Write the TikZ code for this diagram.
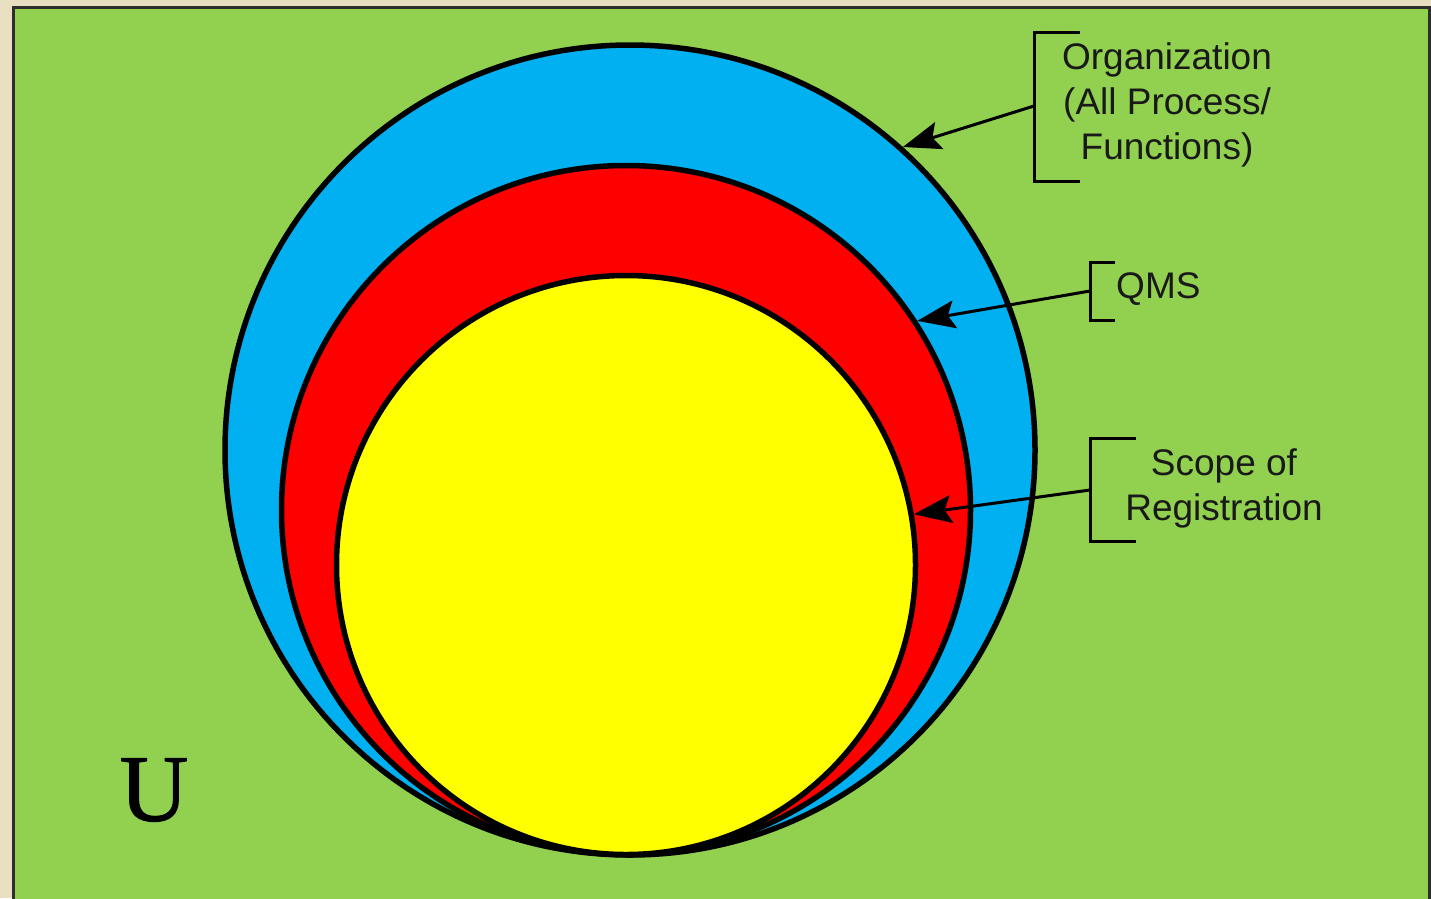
\documentclass[tikz,border=0pt]{standalone}
\usepackage{fontspec}
\setmainfont{Liberation Sans}
\newfontfamily\ufont[FakeBold=1.2]{Liberation Serif}
\usetikzlibrary{arrows.meta}
\definecolor{bgbeige}{HTML}{E8DFC0}
\definecolor{ugreen}{HTML}{92D050}
\definecolor{orgblue}{HTML}{00B0F0}
\definecolor{qmsred}{HTML}{FF0000}
\definecolor{scopeyellow}{HTML}{FFFF00}
\definecolor{frame}{HTML}{2E2E2E}
\tikzset{
  ring/.style={circle, draw=black, line width=5.5pt, inner sep=0pt},
  bracketline/.style={draw=black, line width=3pt},
  pointer/.style={draw=black, line width=3pt, -{Stealth[length=38pt,width=28pt,inset=7pt]}},
  lbl/.style={font=\fontsize{37}{45}\selectfont, text=black!90, align=center, inner sep=0pt},
}
\begin{document}
\begin{tikzpicture}[x=1pt,y=-1pt]
\useasboundingbox (0,0) rectangle (1431,898);
\fill[bgbeige] (0,0) rectangle (1431,898);
\draw[fill=ugreen, draw=frame, line width=3pt] (13.5,7.5) rectangle (1429.5,912);
% circles
\node[ring, fill=orgblue, minimum size=810pt] (org) at (630,450) {};
\node[ring, fill=qmsred, minimum size=689pt] (qms) at (626,510) {};
\node[ring, fill=scopeyellow, minimum size=579pt] (scope) at (626,565) {};
% labels
\node[lbl] (orgtxt) at (1167,105) {Organization\\(All Process/\\Functions)};
\node[lbl, anchor=west] (qmstxt) at (1116,289) {QMS};
\node[lbl] (scopetxt) at (1224,488) {Scope of\\Registration};
\node[font=\ufont\fontsize{95}{100}\selectfont, inner sep=0pt] (u) at (154,790) {U};
% brackets
\coordinate (orgb) at (1034,106);
\coordinate (qmsb) at (1090,291);
\coordinate (scopeb) at (1090,490);
\draw[bracketline] (1080,32) -| (1034,181) -- (1080,181);
\draw[bracketline] (1115,262) -| (1090,320) -- (1115,320);
\draw[bracketline] (1136,438) -| (1090,541) -- (1136,541);
% pointers
\draw[pointer] (orgb) -- (org.48.5);
\draw[pointer] (qmsb) -- (qms.33.3);
\draw[pointer] (scopeb) -- (scope.10.4);
\end{tikzpicture}
\end{document}
